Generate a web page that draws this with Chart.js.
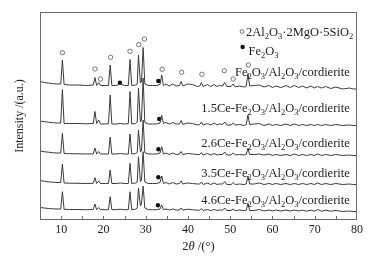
<!DOCTYPE html>
<html>
<head>
<meta charset="utf-8">
<script src="https://cdn.jsdelivr.net/npm/chart.js@4/dist/chart.umd.min.js"></script>
<style>
  html, body { margin: 0; padding: 0; background: #fff; }
  #wrap { width: 377px; height: 262px; }
</style>
</head>
<body>
<div id="wrap"><canvas id="xrd"></canvas></div>
<script>
// 2theta sample positions (deg)
const twoTheta = [5, 6, 7, 8, 9, 9.9, 10.3, 10.7, 12, 14, 16, 17.6, 18.0, 18.4, 18.9, 19.3, 20.5, 21.2, 21.6, 22.0,
  23.0, 24.0, 25.0, 25.9, 26.3, 26.7, 27.6, 28.0, 28.3, 28.75, 29.0, 29.4, 29.8, 30.6, 31.6, 32.6, 33.4, 33.8, 34.2, 34.8,
  35.6, 36.4, 37.2, 38.0, 38.4, 38.8, 39.9, 41.1, 42.2, 42.8, 43.2, 43.6, 44.6, 45.4, 46.2, 46.9, 47.4, 48.2, 48.7, 49.2,
  50.2, 50.7, 51.2, 52.2, 53.3, 53.8, 54.2, 54.6, 55.7, 56.9, 58.0, 59.2, 60.0, 60.8, 62.0, 63.2, 64.2, 65.2, 66.2, 67.1,
  68.1, 69.1, 69.9, 70.7, 71.6, 72.6, 73.8, 75.0, 76.6, 78.2, 79.2, 80];

// intensities (a.u., already stacked as in the figure)
const fe = [138.5, 137.5, 137, 136.3, 136, 136, 160, 135.5, 135, 135, 134.5, 135, 142.5, 134.5, 137.5, 134.5, 134.5, 134.5, 155, 134.5,
  134.5, 136, 134.5, 134.5, 160.5, 134.5, 135, 136, 165, 137, 138, 172.5, 136, 134.5, 134.5, 134.5, 135.5, 145, 134.5, 136,
  134, 136, 134, 134.5, 138.5, 134, 136, 135.5, 133.5, 134, 137.5, 133.5, 135.5, 133.5, 135.5, 133.5, 134.5, 134, 137.5, 133.5,
  133.5, 136, 133, 134, 133, 134, 146.5, 134, 134.5, 135, 133, 134.5, 132.5, 134, 132.5, 134.5, 132.5, 134.5, 132.5, 134,
  132, 134, 132, 133.5, 132, 133.5, 131.5, 133, 131, 132, 131, 131];
const ce15 = [99, 98.3, 97.8, 97.3, 97, 97, 130.5, 96.5, 96.5, 96.5, 96.2, 96.5, 108.5, 96.5, 100, 96, 96, 96.3, 125, 96,
  96, 96.5, 96, 96.3, 128.5, 96, 96.5, 98, 132, 98, 99.5, 142, 97.5, 96, 96, 96, 97, 104.5, 96.5, 97.5,
  96, 97.5, 96, 96, 99.5, 95.5, 97, 96.5, 95, 95.5, 98, 95, 96.5, 95, 97, 95, 96, 95.5, 98, 95,
  95, 97, 95, 95.5, 94.5, 95.5, 105, 95.5, 96, 96.5, 94.5, 96, 94.5, 95.5, 94.5, 96, 94.5, 96, 94.5, 95.5,
  94.5, 95.5, 94.5, 95.5, 94.5, 95.5, 94.5, 95.5, 94.5, 95, 94.5, 94.5];
const ce26 = [69, 68.3, 67.8, 67.3, 67, 67, 86.7, 66.5, 66.3, 66.2, 66, 66.2, 72, 66, 68.5, 66, 66, 66, 83, 66,
  66, 66.5, 66, 66, 86, 66, 66.5, 67.5, 90, 68, 69, 100, 67.5, 66, 66, 66, 67, 73.3, 66, 67,
  65.5, 67, 65.5, 66, 68.5, 65.5, 66.5, 66, 65.5, 65.5, 67.5, 65, 66.5, 65, 66.5, 65, 65.5, 65.5, 68, 65,
  65, 67, 65, 65.5, 65, 65.5, 71.7, 65.5, 65.5, 66, 65, 66, 64.5, 65.5, 64.5, 65.5, 64.5, 66, 64.5, 65.5,
  64.5, 65.5, 64.5, 66, 64.5, 65.5, 64.5, 65.5, 64.5, 65, 64.5, 64.5];
const ce35 = [39.5, 38.7, 38.2, 37.8, 37.5, 37.5, 56, 37, 36.8, 36.7, 36.5, 36.7, 42.3, 36.5, 39, 36.5, 36.5, 36.5, 50, 36.5,
  36.5, 37, 36.5, 36.5, 56.7, 36.5, 37, 38, 63.3, 38.5, 40, 68.3, 38, 36.5, 36.5, 36.5, 37.5, 44, 36.5, 37.5,
  36, 37.5, 36, 36.5, 39, 36, 37, 36.5, 36, 36, 38, 35.5, 37, 35.5, 37, 35.5, 36, 36, 38.5, 35.5,
  35.5, 37.5, 35.5, 36, 35.5, 36, 44, 36, 36, 37, 35.5, 36.5, 35.5, 36.5, 35.5, 36.5, 35.5, 36.5, 35.5, 36.5,
  35.5, 36.5, 35.5, 37, 35.5, 36.5, 35.5, 36.5, 35.5, 36, 35.5, 35.5];
const ce46 = [12.5, 12, 11.5, 11.2, 11, 11, 28.3, 10.7, 10.5, 10.5, 10.3, 10.5, 16, 10.3, 12.5, 10.3, 10.3, 10.3, 23.3, 10.3,
  10.3, 10.8, 10.3, 10.3, 28.3, 10.3, 10.8, 12, 32, 14, 16, 34, 12, 10.3, 10.3, 10.3, 11, 15, 10.3, 11,
  10, 11, 10, 10, 12, 9.8, 10.8, 10.2, 9.8, 9.8, 11.5, 9.5, 10.5, 9.5, 10.5, 9.5, 10, 9.8, 12, 9.5,
  9.5, 11, 9.3, 10, 9.3, 9.8, 16.7, 9.5, 9.5, 10.5, 9, 10, 9, 10, 9, 10, 9, 10, 9, 9.8,
  8.8, 9.8, 8.8, 10.5, 8.8, 9.8, 8.8, 9.5, 8.5, 9, 8.5, 8.5];

const seriesNames = ["Fe_2O_3/Al_2O_3/cordierite", "1.5Ce-Fe_2O_3/Al_2O_3/cordierite", "2.6Ce-Fe_2O_3/Al_2O_3/cordierite",
  "3.5Ce-Fe_2O_3/Al_2O_3/cordierite", "4.6Ce-Fe_2O_3/Al_2O_3/cordierite"];
const seriesValues = [fe, ce15, ce26, ce35, ce46];

// phase markers (2theta, height)
const cordieriteX = [10.3, 18.0, 19.3, 21.7, 26.3, 28.35, 29.7, 33.9, 38.5, 43.3, 48.6, 50.7, 54.3];
const cordieriteY = [167.3, 151, 141, 162.7, 168.7, 175.3, 181, 150.7, 147.7, 145.7, 149.3, 141, 155];
const hematiteX = [23.9, 33.0, 33.2, 33.0, 33.0, 32.9];
const hematiteY = [137.3, 139, 101, 70.7, 42.7, 14.7];

const xTicks = [10, 20, 30, 40, 50, 60, 70, 80];

// where the text goes (data units)
const labelRightX = 78.3;
const labelBaseY = [144, 108.3, 73, 43.3, 16];

const serif = "'Liberation Serif', 'Times New Roman', serif";
const lineColor = "#3a3a3a";

const datasets = seriesValues.map((vals, k) => ({
  type: "line",
  label: seriesNames[k],
  data: twoTheta.map((t, i) => ({ x: t, y: vals[i] })),
  borderColor: lineColor,
  borderWidth: 1,
  pointRadius: 0,
  tension: 0,
  fill: false
}));
datasets.push({
  type: "scatter",
  label: "cordierite",
  data: cordieriteX.map((x, i) => ({ x: x, y: cordieriteY[i] })),
  pointStyle: "circle",
  pointRadius: 2.2,
  borderWidth: 0.8,
  borderColor: "#555",
  backgroundColor: "#fff"
});
datasets.push({
  type: "scatter",
  label: "Fe2O3",
  data: hematiteX.map((x, i) => ({ x: x, y: hematiteY[i] })),
  pointStyle: "circle",
  pointRadius: 2.2,
  borderWidth: 0,
  backgroundColor: "#111"
});

// text with subscripts: "_2" means subscript 2
function richText(ctx, str, x, y, size, alignRight) {
  const parts = [];
  for (let i = 0; i < str.length; i++) {
    if (str[i] === "_") { parts.push([str[i + 1], true]); i++; }
    else if (parts.length && !parts[parts.length - 1][1]) parts[parts.length - 1][0] += str[i];
    else parts.push([str[i], false]);
  }
  const subSize = size * 0.68;
  let total = 0;
  parts.forEach(p => {
    ctx.font = (p[1] ? subSize : size) + "px " + serif;
    total += ctx.measureText(p[0]).width;
  });
  let cx = alignRight ? x - total : x;
  parts.forEach(p => {
    ctx.font = (p[1] ? subSize : size) + "px " + serif;
    ctx.fillText(p[0], cx, p[1] ? y + size * 0.25 : y);
    cx += ctx.measureText(p[0]).width;
  });
}

const decor = {
  id: "decor",
  afterDraw(chart) {
    const ctx = chart.ctx;
    const a = chart.chartArea;
    const xs = chart.scales.x, ys = chart.scales.y;
    ctx.save();
    // frame
    ctx.strokeStyle = "#6e6e6e";
    ctx.lineWidth = 1;
    ctx.strokeRect(Math.round(a.left) + 0.5, Math.round(a.top) + 0.5, Math.round(a.right - a.left) - 1, Math.round(a.bottom - a.top) - 1);
    // inward ticks on the bottom axis
    ctx.beginPath();
    for (let v = 10; v < 80; v += 5) {
      const px = Math.round(xs.getPixelForValue(v)) + 0.5;
      ctx.moveTo(px, a.bottom);
      ctx.lineTo(px, a.bottom - 4);
    }
    ctx.stroke();

    ctx.fillStyle = "#222";
    ctx.textBaseline = "alphabetic";
    // series labels
    seriesNames.forEach((name, k) => {
      richText(ctx, name, xs.getPixelForValue(labelRightX), ys.getPixelForValue(labelBaseY[k]), 12.5, true);
    });
    // phase key
    const kx = xs.getPixelForValue(52.8);
    ctx.strokeStyle = "#555";
    ctx.lineWidth = 0.8;
    ctx.beginPath();
    ctx.arc(kx, ys.getPixelForValue(188.5), 1.9, 0, Math.PI * 2);
    ctx.stroke();
    ctx.fillStyle = "#111";
    ctx.beginPath();
    ctx.arc(kx + 0.6, ys.getPixelForValue(173), 2.2, 0, Math.PI * 2);
    ctx.fill();
    ctx.fillStyle = "#222";
    richText(ctx, "2Al_2O_3·2MgO·5SiO_2", kx + 4, ys.getPixelForValue(184), 12.5, false);
    richText(ctx, "Fe_2O_3", kx + 6.5, ys.getPixelForValue(165), 12.5, false);

    // x axis title: 2θ/(°)
    const cxm = (a.left + a.right) / 2;
    const ty = a.bottom + 30;
    const p1 = "2", p2 = "θ", p3 = " /(°)";
    ctx.font = "12.5px " + serif;
    const w1 = ctx.measureText(p1).width, w3 = ctx.measureText(p3).width;
    ctx.font = "italic 12.5px " + serif;
    const w2 = ctx.measureText(p2).width;
    let sx = cxm - (w1 + w2 + w3) / 2;
    ctx.font = "12.5px " + serif;
    ctx.fillText(p1, sx, ty);
    ctx.font = "italic 12.5px " + serif;
    ctx.fillText(p2, sx + w1, ty);
    ctx.font = "12.5px " + serif;
    ctx.fillText(p3, sx + w1 + w2, ty);
    ctx.restore();
  }
};

new Chart(document.getElementById("xrd"), {
  type: "line",
  data: { datasets: datasets },
  plugins: [decor],
  options: {
    responsive: true,
    maintainAspectRatio: false,
    animation: false,
    layout: { padding: { top: 12, right: 20, left: 0, bottom: 0 } },
    plugins: { legend: { display: false }, tooltip: { enabled: false } },
    scales: {
      x: {
        type: "linear",
        min: 5,
        max: 80,
        grid: { display: false, drawTicks: false },
        border: { display: false },
        afterFit: s => { s.height = 42; },
        afterBuildTicks: s => { s.ticks = xTicks.map(v => ({ value: v })); },
        ticks: {
          padding: 3,
          maxRotation: 0,
          autoSkip: false,
          color: "#222",
          font: { family: serif, size: 12 }
        }
      },
      y: {
        min: 0,
        max: 208,
        grid: { display: false, drawTicks: false },
        border: { display: false },
        ticks: { display: false },
        afterFit: s => { s.width = 40; },
        title: {
          display: true,
          text: "Intensity /(a.u.)",
          color: "#222",
          padding: { top: 13, bottom: 0 },
          font: { family: serif, size: 12 }
        }
      }
    }
  }
});
</script>
</body>
</html>
